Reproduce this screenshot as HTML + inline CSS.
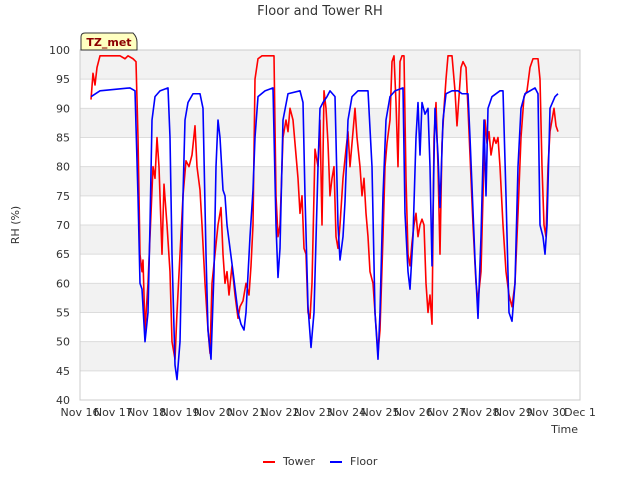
<!DOCTYPE html>
<html><head><meta charset="utf-8"><style>
body{margin:0;background:#fff;font-family:"Liberation Sans","DejaVu Sans",sans-serif}
svg text{font-family:"DejaVu Sans","Liberation Sans",sans-serif}
</style></head><body>
<svg id="c" width="640" height="480"></svg>
<script>
const xTickLabels=["Nov 16","Nov 17","Nov 18","Nov 19","Nov 20","Nov 21","Nov 22","Nov 23","Nov 24","Nov 25","Nov 26","Nov 27","Nov 28","Nov 29","Nov 30","Dec 1"];
const yTicks=[40,45,50,55,60,65,70,75,80,85,90,95,100];
const floorT=[.33,.6,1.5,1.65,1.74,1.8,1.86,1.95,2.04,2.1,2.16,2.25,2.4,2.64,2.7,2.76,2.85,2.91,3.0,3.09,3.15,3.24,3.39,3.6,3.69,3.78,3.84,3.93,4.02,4.08,4.14,4.2,4.29,4.35,4.41,4.5,4.59,4.74,4.83,4.92,4.98,5.1,5.19,5.25,5.34,5.55,5.79,5.88,5.94,6.0,6.09,6.24,6.6,6.69,6.75,6.84,6.93,7.02,7.14,7.2,7.29,7.41,7.5,7.65,7.74,7.8,7.89,7.95,8.04,8.16,8.34,8.64,8.76,8.85,8.94,9.0,9.09,9.18,9.3,9.45,9.69,9.75,9.84,9.9,9.99,10.08,10.14,10.2,10.26,10.35,10.44,10.5,10.56,10.65,10.74,10.8,10.89,10.98,11.16,11.34,11.46,11.64,11.7,11.85,11.94,12.03,12.12,12.18,12.24,12.36,12.6,12.69,12.78,12.87,12.96,13.05,13.14,13.23,13.35,13.65,13.74,13.8,13.89,13.95,14.01,14.1,14.25,14.34];
const floorV=[92,93,93.5,93,75,60,59,50,55,70,88,92,93,93.5,85,65,46,43.5,50,75,88,91,92.5,92.5,90,65,52,47,62,80,88,85,76,75,70,66,62,55,53,52,55,68,76,85,92,93,93.5,70,61,66,88,92.5,93,91,75,56,49,55,80,90,91,92,93,92,70,64,68,74,88,92,93,93,80,55,47,55,75,88,92,93,93.5,72,62,59,68,85,91,82,91,89,90,80,63,90,82,73,88,92.5,93,93,92.5,92.5,85,64,54,68,88,75,90,92,93,93,75,55,53.5,60,80,90,92.5,93.5,92.5,70,68,65,70,90,92,92.5];
const towerT=[.33,.39,.45,.51,.6,.75,1.2,1.35,1.44,1.59,1.68,1.74,1.8,1.86,1.89,1.95,2.04,2.1,2.19,2.25,2.31,2.37,2.46,2.52,2.61,2.7,2.76,2.85,2.91,3.0,3.09,3.18,3.27,3.36,3.45,3.51,3.6,3.66,3.75,3.84,3.9,3.96,4.05,4.14,4.23,4.29,4.35,4.41,4.47,4.56,4.65,4.74,4.8,4.89,4.98,5.07,5.13,5.19,5.25,5.34,5.46,5.7,5.82,5.88,5.94,6.0,6.09,6.18,6.24,6.3,6.39,6.48,6.54,6.6,6.66,6.72,6.78,6.84,6.9,6.96,7.05,7.14,7.2,7.26,7.32,7.38,7.44,7.5,7.56,7.62,7.68,7.74,7.8,7.89,7.98,8.04,8.1,8.16,8.25,8.31,8.4,8.46,8.52,8.58,8.64,8.7,8.79,8.85,8.94,9.0,9.09,9.15,9.21,9.3,9.36,9.42,9.48,9.54,9.6,9.66,9.72,9.78,9.84,9.9,9.96,10.02,10.08,10.14,10.2,10.26,10.32,10.38,10.44,10.5,10.56,10.62,10.68,10.74,10.8,10.86,10.92,10.98,11.04,11.16,11.25,11.31,11.37,11.43,11.49,11.58,11.64,11.7,11.79,11.88,11.94,12.03,12.09,12.15,12.21,12.27,12.33,12.42,12.48,12.54,12.6,12.69,12.78,12.87,12.96,13.05,13.14,13.23,13.32,13.41,13.5,13.59,13.74,13.8,13.86,13.92,13.98,14.04,14.1,14.16,14.22,14.28,14.34];
const towerV=[91.5,96,94,97,99,99,99,98.5,99,98.5,98,85,65,62,64,52,60,68,80,78,85,80,65,77,70,62,50,47,55,65,75,81,80,82,87,80,76,70,60,52,48,60,65,70,73,65,60,62,58,63,58,54,56,57,60,58,63,70,95,98.5,99,99,99,75,68,70,85,88,86,90,88,82,78,72,75,66,65,55,54,60,83,80,88,70,93,90,84,75,78,80,68,66,70,78,83,86,80,84,90,85,80,75,78,72,68,62,60,55,48,52,68,80,84,88,98,99,91,80,98,99,99,78,65,63,67,70,72,68,70,71,70,60,55,58,53,85,91,80,65,84,90,95,99,99,93,87,92,97,98,97,90,82,70,60,57,62,75,88,84,86,82,85,84,85,80,70,62,58,56,60,72,85,92,93,97,98.5,98.5,95,80,70,68,80,86,88,90,87,86];
const L=80,R=580,T=50,B=400;
const xs=d=>L+d*(R-L)/15, ys=v=>B-(v-40)*(B-T)/60;
const svg=document.getElementById('c'),NS='http://www.w3.org/2000/svg';
function mk(tag,a,txt){const e=document.createElementNS(NS,tag);for(const k in a)e.setAttribute(k,a[k]);if(txt!=null)e.textContent=txt;svg.appendChild(e);return e;}
for(let v=45;v<100;v+=10){const r=mk('rect',{x:L,y:ys(v+5),width:R-L,height:ys(v)-ys(v+5),fill:'#f2f2f2'});

}
yTicks.forEach(v=>{const g=mk('line',{x1:L,x2:R,y1:ys(v),y2:ys(v),stroke:'#dcdcdc','stroke-width':1});


const t=mk('text',{x:L-10,y:ys(v)+4,'text-anchor':'end','font-size':11,fill:'#333'},v);

});
const fr=mk('rect',{x:L,y:T,width:R-L,height:B-T,fill:'none',stroke:'#ccc'});


xTickLabels.forEach((s,i)=>{const t=mk('text',{x:xs(i),y:B+16,'text-anchor':'middle','font-size':11,fill:'#333'},s);

});
function line(T_,V,col,name){const p=mk('polyline',{points:T_.map((t,i)=>xs(t)+','+ys(V[i])).join(' '),fill:'none',stroke:col,'stroke-width':1.6,'stroke-linejoin':'round'});

}
line(towerT,towerV,'#ff0000','tower-line');
line(floorT,floorV,'#0000ff','floor-line');
const tt=mk('text',{x:320,y:15,'text-anchor':'middle','font-size':13,fill:'#333'},'Floor and Tower RH');


const yl=mk('text',{x:19,y:225,'text-anchor':'middle','font-size':11,fill:'#333',transform:'rotate(-90 19 225)'},'RH (%)');


const xl=mk('text',{x:578,y:433,'text-anchor':'end','font-size':11,fill:'#333'},'Time');


const tb=mk('path',{d:'M81,50 L81,37 Q81,33 85,33 L133,33 Q137,37 137,42 L137,50 Z',fill:'#ffffc0',stroke:'#333','stroke-width':1});


const tl=mk('text',{x:109,y:46,'text-anchor':'middle','font-size':11,'font-weight':'bold',fill:'#8b0000'},'TZ_met');


const l1=mk('line',{x1:263,x2:275,y1:462,y2:462,stroke:'#ff0000','stroke-width':2});


const t1=mk('text',{x:283,y:465,'font-size':11,fill:'#333'},'Tower');


const l2=mk('line',{x1:330,x2:342,y1:462,y2:462,stroke:'#0000ff','stroke-width':2});


const t2=mk('text',{x:350,y:465,'font-size':11,fill:'#333'},'Floor');


</script>
</body></html>
